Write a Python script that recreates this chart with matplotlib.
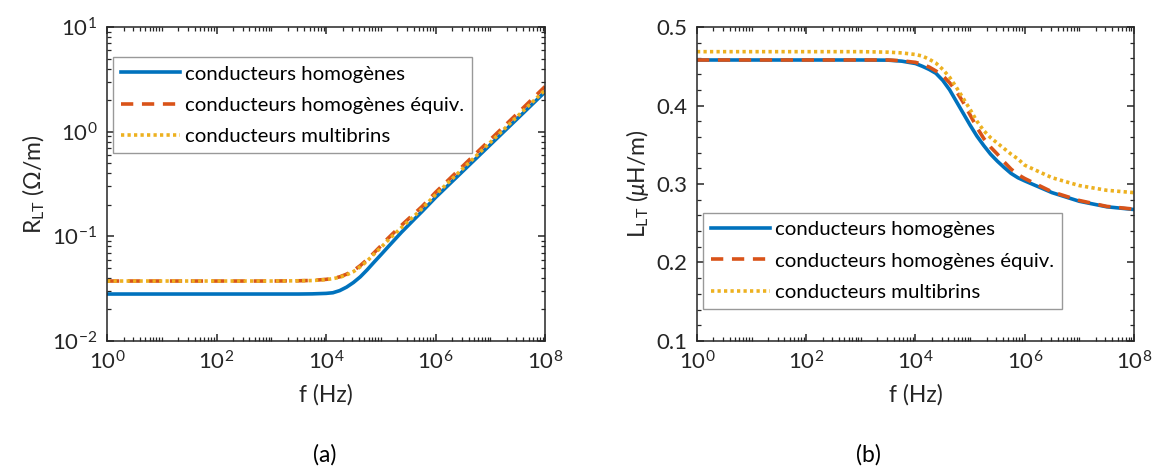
import matplotlib
matplotlib.use('Agg')
import numpy as np
from matplotlib import pyplot as plt
from matplotlib.ticker import LogLocator, MultipleLocator, NullFormatter

plt.rcParams['font.family'] = ['Lato', 'DejaVu Sans']
plt.rcParams['mathtext.fontset'] = 'custom'
plt.rcParams['mathtext.rm'] = 'Lato'
plt.rcParams['mathtext.it'] = 'Lato:italic'

# Data
log_f = [0, 1, 2, 3, 3.5, 3.75,
         4, 4.125, 4.25, 4.375, 4.5, 4.625, 4.75, 4.875,
         5, 5.125, 5.25, 5.375, 5.5, 5.625, 5.75, 5.875,
         6, 6.5, 7, 7.5, 8]

r_homog = [0.0281, 0.0281, 0.0281, 0.0281, 0.0281, 0.0282,
           0.0285, 0.0289, 0.0303, 0.0327, 0.0362, 0.041, 0.0478, 0.0565,
           0.0665, 0.0785, 0.0925, 0.109, 0.127, 0.148, 0.172, 0.201,
           0.235, 0.42, 0.75, 1.34, 2.4]
r_equiv = [0.0374, 0.0374, 0.0374, 0.0374, 0.0376, 0.0379,
           0.0388, 0.0396, 0.041, 0.0435, 0.047, 0.0525, 0.060, 0.0695,
           0.081, 0.095, 0.110, 0.127, 0.146, 0.167, 0.192, 0.224,
           0.263, 0.47, 0.84, 1.5, 2.7]
r_multi = [0.0374, 0.0374, 0.0374, 0.0374, 0.0376, 0.0378,
           0.0386, 0.0394, 0.0406, 0.0428, 0.046, 0.0512, 0.058, 0.0675,
           0.078, 0.091, 0.105, 0.121, 0.139, 0.159, 0.183, 0.214,
           0.25, 0.445, 0.79, 1.41, 2.5]

l_homog = [0.458, 0.458, 0.458, 0.458, 0.4578, 0.4565,
           0.4535, 0.450, 0.446, 0.441, 0.432, 0.420, 0.405, 0.390,
           0.375, 0.361, 0.349, 0.338, 0.329, 0.321, 0.3135, 0.308,
           0.304, 0.289, 0.278, 0.271, 0.2675]
l_equiv = [0.458, 0.458, 0.458, 0.458, 0.458, 0.457,
           0.455, 0.4525, 0.449, 0.444, 0.438, 0.429, 0.418, 0.404,
           0.388, 0.372, 0.358, 0.347, 0.338, 0.328, 0.319, 0.312,
           0.307, 0.290, 0.279, 0.2715, 0.268]
l_multi = [0.4686, 0.4686, 0.4686, 0.4686, 0.468, 0.467,
           0.465, 0.463, 0.459, 0.454, 0.446, 0.436, 0.423, 0.409,
           0.395, 0.380, 0.368, 0.359, 0.352, 0.345, 0.338, 0.332,
           0.324, 0.308, 0.298, 0.292, 0.289]

labels = ['conducteurs homogènes', 'conducteurs homogènes équiv.', 'conducteurs multibrins']

freq = 10.0 ** np.array(log_f)

c_blue = '#0072BD'
c_orange = '#D95319'
c_yellow = '#EDB120'
txt = '#262626'


def style_axes(ax):
    for s in ax.spines.values():
        s.set_linewidth(1.1)
        s.set_color(txt)
    ax.tick_params(which='both', direction='in', top=True, right=True,
                   labelsize=16, colors=txt, pad=7)
    ax.tick_params(which='major', length=5, width=1.1)
    ax.tick_params(which='minor', length=3, width=0.9)
    ax.set_xscale('log')
    ax.set_xlim(1, 1e8)
    ax.set_xticks([1, 1e2, 1e4, 1e6, 1e8])
    ax.xaxis.set_minor_locator(LogLocator(base=10, subs=np.arange(1, 10), numticks=100))
    ax.xaxis.set_minor_formatter(NullFormatter())
    ax.set_xlabel('f (Hz)', fontsize=16.5, color=txt, labelpad=7)


def add_legend(ax, y):
    leg = ax.legend(loc='upper left', bbox_to_anchor=(0.0137, y), fontsize=14.7,
                    handlelength=2.9, frameon=True, fancybox=False, borderaxespad=0,
                    borderpad=0.4, labelspacing=0.68, handletextpad=0.22)
    leg.get_frame().set_edgecolor('#808080')
    leg.get_frame().set_linewidth(1.0)


fig = plt.figure(figsize=(11.57, 4.70), dpi=100)
ax1 = fig.add_axes([0.0925, 0.2745, 0.3786, 0.668])
ax2 = fig.add_axes([0.6024, 0.2745, 0.3777, 0.668])

# (a) resistance
ax1.plot(freq, r_homog, color=c_blue, lw=2.6, label=labels[0])
ax1.plot(freq, r_equiv, color=c_orange, lw=2.6, ls=(0, (3.4, 2.4)), label=labels[1])
ax1.plot(freq, r_multi, color=c_yellow, lw=2.6, ls=(0, (0.9, 0.9)), label=labels[2])
style_axes(ax1)
ax1.set_yscale('log')
ax1.set_ylim(1e-2, 1e1)
ax1.yaxis.set_minor_locator(LogLocator(base=10, subs=np.arange(1, 10), numticks=100))
ax1.yaxis.set_minor_formatter(NullFormatter())
ax1.set_ylabel(r'R$_{\mathrm{LT}}$ (Ω/m)', fontsize=16.5, color=txt, labelpad=4)
add_legend(ax1, 0.904)

# (b) inductance
ax2.plot(freq, l_homog, color=c_blue, lw=2.6, label=labels[0])
ax2.plot(freq, l_equiv, color=c_orange, lw=2.6, ls=(0, (3.4, 2.4)), label=labels[1])
ax2.plot(freq, l_multi, color=c_yellow, lw=2.6, ls=(0, (0.9, 0.9)), label=labels[2])
style_axes(ax2)
ax2.set_ylim(0.1, 0.5)
ax2.yaxis.set_major_locator(MultipleLocator(0.1))
ax2.yaxis.set_minor_locator(MultipleLocator(0.02))
ax2.set_ylabel(r'L$_{\mathrm{LT}}$ ($\mu$H/m)', fontsize=16.5, color=txt, labelpad=4)
add_legend(ax2, 0.408)

fig.text(0.281, 0.01, '(a)', fontsize=16.5, ha='center', va='bottom')
fig.text(0.751, 0.01, '(b)', fontsize=16.5, ha='center', va='bottom')

fig.savefig('out.png', dpi=100)
